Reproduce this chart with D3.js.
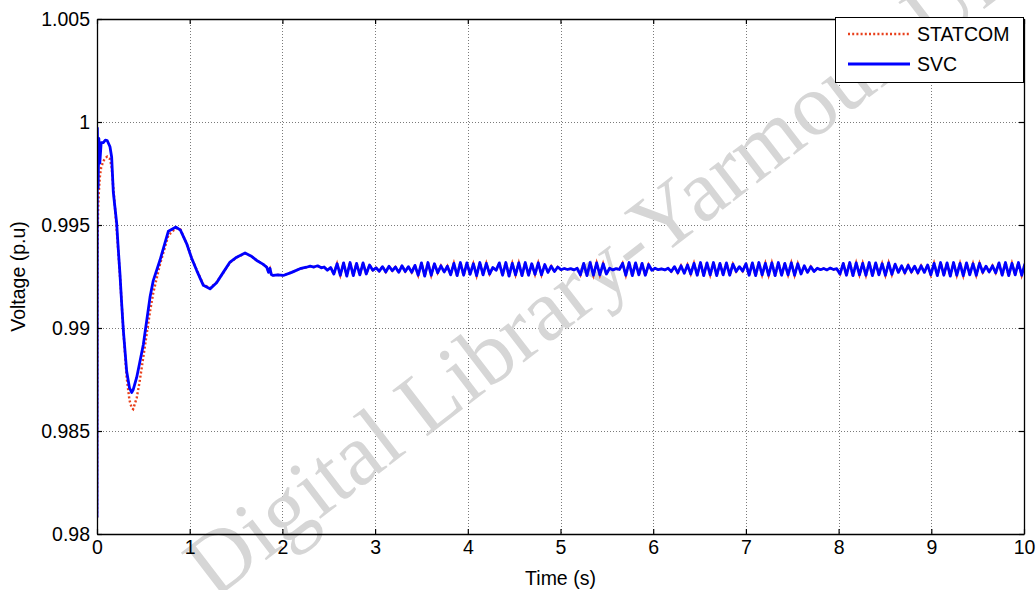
<!DOCTYPE html>
<html><head><meta charset="utf-8">
<script src="https://cdn.jsdelivr.net/npm/d3@7"></script>
<style>body{margin:0;background:#fff}svg{display:block}text{font-family:"Liberation Sans",Arial,sans-serif}</style>
</head><body>
<svg id="c" width="1036" height="590"></svg>
<script>
// ---- data ----
const xTicks = [0,1,2,3,4,5,6,7,8,9,10];
const yTicks = [0.98,0.985,0.99,0.995,1,1.005];
const yTickLabels = ["0.98","0.985","0.99","0.995","1","1.005"];
const seriesNames = ["STATCOM","SVC"];

// transient part (shared time samples, s)
const tTransient = [0,0.004,0.012,0.02,0.03,0.045,0.068,0.09,0.11,0.14,0.158,0.176,0.195,0.212,0.23,0.248,0.266,0.284,0.32,0.35,0.374,0.39,0.428,0.46,0.5,0.572,0.607,0.68,0.77,0.852,0.9,0.967,1.02,1.075,1.147,1.219,1.29,1.362,1.435,1.507,1.597,1.66,1.723,1.79,1.83,1.85,1.866,1.88,1.9,1.95,2.01,2.1,2.19,2.26,2.3,2.34,2.38,2.42];
const svcTransient = [0.9808,0.9997,0.9968,0.9992,0.998,0.999,0.999,0.99912,0.9991,0.9988,0.9983,0.9966,0.9958,0.9951,0.9938,0.9926,0.9912,0.9899,0.9879,0.9871,0.98687,0.987,0.9876,0.9883,0.9892,0.9915,0.9923,0.9933,0.9947,0.9949,0.99475,0.9941,0.9934,0.9928,0.99207,0.9919,0.9922,0.9927,0.9932,0.99344,0.99364,0.9935,0.99328,0.9931,0.99296,0.9927,0.9929,0.9926,0.99255,0.99258,0.99255,0.9927,0.99288,0.99295,0.993,0.99296,0.99302,0.99292];
const statcomTransient = [0.9808,0.9935,0.9958,0.9966,0.9973,0.9978,0.9981,0.99825,0.99832,0.9982,0.9978,0.9968,0.9958,0.9948,0.9937,0.9925,0.9912,0.9899,0.9876,0.9865,0.98612,0.98606,0.9866,0.9874,0.9886,0.9908,0.9917,0.9931,0.9945,0.99485,0.99478,0.9941,0.9934,0.99282,0.99212,0.99193,0.99222,0.99268,0.99318,0.99342,0.99362,0.9935,0.99328,0.9931,0.99296,0.99274,0.99288,0.99262,0.99256,0.99258,0.99256,0.9927,0.99288,0.99295,0.993,0.99296,0.993,0.99292];

// steady-state oscillation, sampled every oscStep seconds from oscStart
const oscStart = 2.45, oscStep = 0.035;
const oscValues = [
0.99296,0.9928,0.99294,
0.99262,0.99312,0.99256,0.99316,0.99252,0.99318,0.99254,0.99314,0.99258,0.99316,0.99262,0.99306,
0.9928,0.99292,
0.99276,0.99298,0.99272,0.993,0.99278,0.99296,0.9927,0.99302,0.99274,0.99298,0.9927,0.99304,
0.99256,0.99316,0.99252,0.99318,0.99256,0.99312,
0.99268,0.99302,0.99272,0.993,
0.99258,0.99314,0.99254,0.99318,0.99256,0.99316,0.9926,0.99312,0.99254,0.99318,0.99258,0.99314,0.99262,
0.99294,0.9928,
0.99316,0.99256,0.99318,0.99252,0.99314,0.99258,0.99316,0.99254,0.99318,0.99256,0.99312,0.9926,0.99316,0.99258,0.99308,
0.9927,0.993,0.99274,0.99296,
0.99283,0.99289,0.99284,0.99288,0.99282,0.9929,
0.99258,0.99314,0.99254,0.99318,0.99256,0.99316,0.99258,0.99312,0.99262,
0.9929,0.99282,0.99288,0.99284,
0.99314,0.99256,0.99318,0.99254,0.99316,0.99258,0.99314,0.99256,0.99308,
0.9928,0.9929,0.99283,0.99287,0.99282,0.9929,
0.99274,0.99298,0.99268,0.99302,0.99266,0.99306,0.99262,
0.99314,0.99256,0.99318,0.99254,0.99316,0.99258,0.99318,0.99254,0.99314,0.99258,0.99316,0.99256,0.9931,
0.99274,0.99298,0.99276,
0.99312,0.99256,0.99316,0.99254,0.99318,0.99258,0.99314,0.99256,0.99316,0.99254,0.99318,0.99256,0.99314,0.99258,0.99316,0.99256,0.99312,0.99262,
0.99302,0.9927,0.99298,0.99274,
0.9929,0.99283,0.99289,0.99282,0.99291,0.99284,0.99288,
0.99262,0.99314,0.99256,0.99318,0.99254,0.99316,0.99258,0.99314,0.99256,0.99318,0.99254,0.99316,0.99258,0.99312,0.99256,0.99316,0.9926,0.9931,
0.9927,0.99302,0.99268,0.99304,0.99272,0.993,0.99268,0.99302,0.9927,0.99306,
0.99258,0.99314,0.99254,0.99318,0.99256,0.99316,0.99252,0.99318,0.99256,0.99314,0.99254,0.99316,0.99258,0.99312,0.99256,0.99314,
0.9927,0.993,0.99272,0.99302,0.99268,
0.99316,0.99256,0.99318,0.99254,0.99314,0.99258,0.99318,0.99256,0.99312
];

// ---- build series ----
const oscPts = oscValues.map((v,i)=>({t: oscStart + i*oscStep, v}));
const svc = tTransient.map((t,i)=>({t, v: svcTransient[i]})).concat(oscPts);
const statcom = tTransient.map((t,i)=>({t, v: statcomTransient[i]})).concat(oscPts);

// ---- layout ----
const L=97, R=1024, T=19, B=534;
const FS = 19.5;
const svg = d3.select("#c");
const x = d3.scaleLinear().domain([0,10]).range([L,R]);
const y = d3.scaleLinear().domain([0.98,1.005]).range([B,T]);

// grid
const grid = svg.append("g").attr("stroke","#7a7a7a").attr("stroke-width",1).attr("stroke-dasharray","1,2");
grid.selectAll(".gx").data(xTicks.slice(1,-1)).join("line")
  .attr("x1",d=>Math.round(x(d))+0.5).attr("x2",d=>Math.round(x(d))+0.5).attr("y1",T).attr("y2",B);
grid.selectAll(".gy").data(yTicks.slice(1,-1)).join("line")
  .attr("y1",d=>Math.round(y(d))+0.5).attr("y2",d=>Math.round(y(d))+0.5).attr("x1",L).attr("x2",R);

// watermark
svg.append("text").text("Digital Library-Yarmouk University")
  .attr("transform","translate(214,600) rotate(-37.5)")
  .attr("font-size",88).attr("fill","#d6d6d6")
  .style("font-family","'Liberation Serif','DejaVu Serif',serif");

// lines
svg.append("clipPath").attr("id","clip").append("rect").attr("x",L).attr("y",T-2).attr("width",R-L).attr("height",B-T+4);
const line = d3.line().x(d=>x(d.t)).y(d=>y(d.v));
const lines = svg.append("g").attr("clip-path","url(#clip)");
lines.append("path").datum(statcom).attr("d",line).attr("fill","none")
  .attr("stroke","#e8401c").attr("stroke-width",2.4).attr("stroke-dasharray","2,2.2");
lines.append("path").datum(svc).attr("d",line).attr("fill","none")
  .attr("stroke","#0000ff").attr("stroke-width",2.8).attr("stroke-linejoin","round");

// axes (MATLAB style, inward ticks on all sides)
const fmtY = d => yTickLabels[yTicks.indexOf(d)];
const axB = svg.append("g").attr("transform",`translate(0,${B})`)
  .call(d3.axisBottom(x).tickValues(xTicks).tickFormat(d3.format("d")).tickSizeInner(-5).tickSizeOuter(0).tickPadding(6));
const axT = svg.append("g").attr("transform",`translate(0,${T})`)
  .call(d3.axisTop(x).tickValues(xTicks).tickFormat("").tickSizeInner(-5).tickSizeOuter(0));
const axL = svg.append("g").attr("transform",`translate(${L},0)`)
  .call(d3.axisLeft(y).tickValues(yTicks).tickFormat(fmtY).tickSizeInner(-5).tickSizeOuter(0).tickPadding(7));
const axR = svg.append("g").attr("transform",`translate(${R},0)`)
  .call(d3.axisRight(y).tickValues(yTicks).tickFormat("").tickSizeInner(-5).tickSizeOuter(0));
[axB,axT,axL,axR].forEach(a=>{
  a.selectAll(".domain").attr("stroke","#000").attr("stroke-width",1.3);
  a.selectAll(".tick line").attr("stroke","#000").attr("stroke-width",1.2);
  a.selectAll("text").attr("font-size",FS).attr("fill","#000").style("font-family","'Liberation Sans',Arial,sans-serif");
});

// axis labels
svg.append("text").text("Time (s)").attr("x",(L+R)/2).attr("y",585).attr("text-anchor","middle").attr("font-size",FS);
svg.append("text").text("Voltage (p.u)").attr("transform",`translate(25,${(T+B)/2}) rotate(-90)`).attr("text-anchor","middle").attr("font-size",FS);

// legend
const lg = svg.append("g");
lg.append("rect").attr("x",835.5).attr("y",17.5).attr("width",188).attr("height",65).attr("fill","#fff").attr("stroke","#000").attr("stroke-width",1);
const lgItems = [{name:seriesNames[0],color:"#e8401c",dash:"2,2.2",w:2.4},{name:seriesNames[1],color:"#0000ff",dash:null,w:2.8}];
lgItems.forEach((it,i)=>{
  const yy = 34 + i*30;
  lg.append("line").attr("x1",848).attr("x2",910).attr("y1",yy).attr("y2",yy)
    .attr("stroke",it.color).attr("stroke-width",it.w).attr("stroke-dasharray",it.dash);
  lg.append("text").text(it.name).attr("x",917).attr("y",yy+7).attr("font-size",FS);
});
</script>
</body></html>
